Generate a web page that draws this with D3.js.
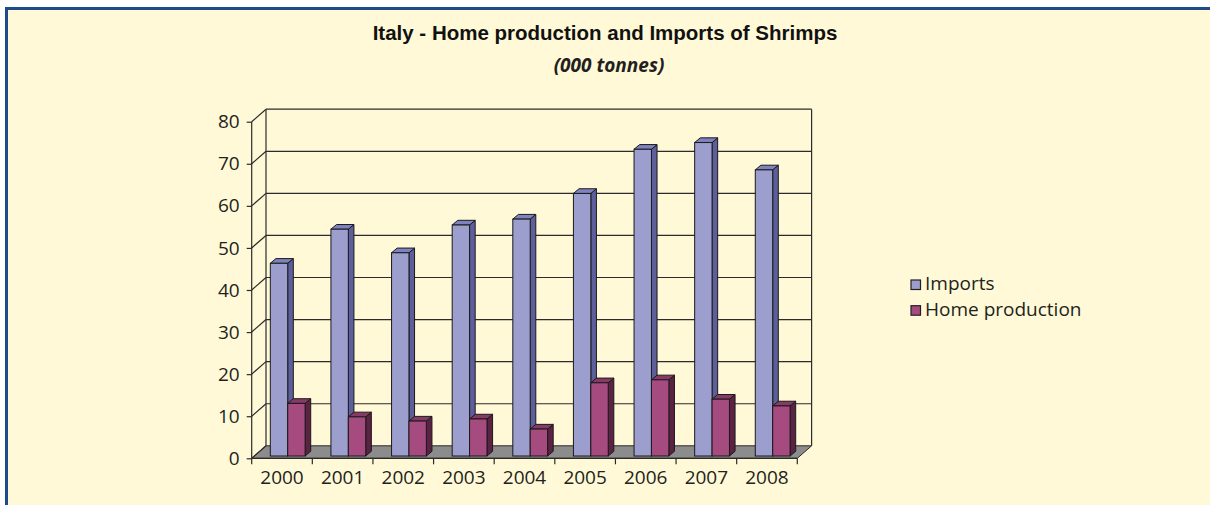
<!DOCTYPE html>
<html>
<head>
<meta charset="utf-8">
<script src="https://cdn.jsdelivr.net/npm/d3@7"></script>
<style>
  html, body { margin: 0; padding: 0; background: #ffffff; }
  svg { display: block; }
</style>
</head>
<body>
<svg id="chart" width="1210" height="505"></svg>
<script>
// ---- data ----
const years = ["2000", "2001", "2002", "2003", "2004", "2005", "2006", "2007", "2008"];
const imports = [45.8, 53.9, 48.3, 54.9, 56.3, 62.4, 72.9, 74.5, 68.0];
const homeProduction = [12.5, 9.3, 8.3, 8.8, 6.4, 17.4, 18.1, 13.5, 11.9];
const seriesNames = ["Imports", "Home production"];
const yTicks = [0, 10, 20, 30, 40, 50, 60, 70, 80];

// ---- layout ----
const svg = d3.select("#chart");
const W = 1210, H = 505;
const plotL = 251.7, plotR = 797.3, plotT = 121.7, plotB = 458.3;
const depthX = 14.3, depthY = -12.5;      // wall depth projection
const barDX = 5.6, barDY = -4.7;          // bar depth projection
const barOffX = 5.7, barOffY = -2.3;      // bar front face offset from front plane
const barW = 17.4;

const colors = {
  Imports: { front: "#9c9ece", side: "#5c5f9c", top: "#7f82c0" },
  "Home production": { front: "#a64b80", side: "#5b2244", top: "#883a67" }
};

// panel
svg.append("rect").attr("x", 0).attr("y", 0).attr("width", W).attr("height", H).attr("fill", "#ffffff");
svg.append("rect")
  .attr("x", 6.5).attr("y", 8.5).attr("width", W + 20).attr("height", H + 20)
  .attr("fill", "#fff9d7").attr("stroke", "#1f4b8a").attr("stroke-width", 3);

// scales
const y = d3.scaleLinear().domain([0, 80]).range([plotB, plotT]);
const x0 = d3.scaleBand().domain(years).range([plotL, plotR]).paddingInner(0).paddingOuter(0);
const groupW = barW * 2;
const x1 = d3.scaleBand().domain(seriesNames).range([0, groupW]);

const g = svg.append("g");
const gridColor = "#2b2b2b";

// floor
const floorPts = [[plotL, plotB], [plotR, plotB], [plotR + depthX, plotB + depthY], [plotL + depthX, plotB + depthY]];
g.append("polygon").attr("points", floorPts.map(p => p.join(",")).join(" "))
  .attr("fill", "#8c8c8c").attr("stroke", gridColor).attr("stroke-width", 1);

// back wall gridlines
g.selectAll("line.bgrid").data(yTicks.filter(d => d > 0)).enter().append("line")
  .attr("class", "bgrid")
  .attr("x1", plotL + depthX).attr("x2", plotR + depthX)
  .attr("y1", d => y(d) + depthY).attr("y2", d => y(d) + depthY)
  .attr("stroke", gridColor).attr("stroke-width", 1.2);
// side wall diagonal gridlines
g.selectAll("line.sgrid").data(yTicks).enter().append("line")
  .attr("class", "sgrid")
  .attr("x1", plotL).attr("x2", plotL + depthX)
  .attr("y1", d => y(d)).attr("y2", d => y(d) + depthY)
  .attr("stroke", gridColor).attr("stroke-width", 1.2);
// wall edges
g.append("line").attr("x1", plotL + depthX).attr("x2", plotL + depthX)
  .attr("y1", y(80) + depthY).attr("y2", y(0) + depthY).attr("stroke", gridColor).attr("stroke-width", 1.2);
g.append("line").attr("x1", plotR + depthX).attr("x2", plotR + depthX)
  .attr("y1", y(80) + depthY).attr("y2", y(0) + depthY).attr("stroke", gridColor).attr("stroke-width", 1.2);

// bars
const barData = [];
years.forEach((yr, i) => {
  barData.push({ year: yr, series: "Imports", value: imports[i] });
  barData.push({ year: yr, series: "Home production", value: homeProduction[i] });
});
const bandPad = (x0.bandwidth() - groupW) / 2;
barData.forEach(d => {
  const xl = x0(d.year) + bandPad + x1(d.series) + barOffX;
  const xr = xl + barW;
  const yb = y(0) + barOffY;
  const yt = y(d.value) + barOffY;
  const c = colors[d.series];
  const bg = g.append("g");
  // side
  bg.append("polygon")
    .attr("points", [[xr, yb], [xr + barDX, yb + barDY], [xr + barDX, yt + barDY], [xr, yt]].map(p => p.join(",")).join(" "))
    .attr("fill", c.side).attr("stroke", "#1a1a1a").attr("stroke-width", 1).attr("stroke-linejoin", "round");
  // top
  bg.append("polygon")
    .attr("points", [[xl, yt], [xr, yt], [xr + barDX, yt + barDY], [xl + barDX, yt + barDY]].map(p => p.join(",")).join(" "))
    .attr("fill", c.top).attr("stroke", "#1a1a1a").attr("stroke-width", 1).attr("stroke-linejoin", "round");
  // front
  bg.append("rect")
    .attr("x", xl).attr("y", yt).attr("width", barW).attr("height", yb - yt)
    .attr("fill", c.front).attr("stroke", "#1a1a1a").attr("stroke-width", 1);
});

// y axis
const yAxis = d3.axisLeft(y).tickValues(yTicks).tickSize(5).tickPadding(7).tickFormat(d3.format("d"));
const ya = svg.append("g").attr("transform", `translate(${plotL},0)`).call(yAxis);
ya.select(".domain").attr("stroke", gridColor).attr("stroke-width", 1.2).attr("d", `M0,${plotT}V${plotB}`);
ya.selectAll(".tick line").attr("stroke", gridColor).attr("stroke-width", 1.2);
ya.selectAll("text").attr("fill", "#231f20")
  .style("font-family", "'Open Sans', sans-serif").style("font-size", "19px");

// x axis
const xa = svg.append("g").attr("transform", `translate(0,${plotB})`);
xa.append("line").attr("x1", plotL).attr("x2", plotR).attr("y1", 0).attr("y2", 0)
  .attr("stroke", gridColor).attr("stroke-width", 1.2);
const xTickPos = years.map(yr => x0(yr)).concat([plotR]);
xa.selectAll("line.xt").data(xTickPos).enter().append("line")
  .attr("class", "xt").attr("x1", d => d).attr("x2", d => d).attr("y1", 0).attr("y2", 6)
  .attr("stroke", gridColor).attr("stroke-width", 1.2);
xa.selectAll("text").data(years).enter().append("text")
  .attr("x", d => x0(d) + x0.bandwidth() / 2).attr("y", 26)
  .attr("text-anchor", "middle").attr("fill", "#231f20")
  .style("font-family", "'Open Sans', sans-serif").style("font-size", "19px")
  .text(d => d);

// titles
svg.append("text").attr("x", 605).attr("y", 39.5).attr("text-anchor", "middle")
  .attr("fill", "#111").style("font-family", "'Liberation Sans', Arial, sans-serif")
  .style("font-weight", "bold").style("font-size", "20.5px")
  .text("Italy - Home production and Imports of Shrimps");
svg.append("text").attr("x", 609).attr("y", 71.5).attr("text-anchor", "middle")
  .attr("fill", "#231f20").style("font-family", "'Open Sans', sans-serif")
  .style("font-weight", "bold").style("font-style", "italic").style("font-size", "19px")
  .text("(000 tonnes)");

// legend
const legend = svg.append("g");
seriesNames.forEach((s, i) => {
  const ly = 280 + i * 25.7;
  legend.append("rect").attr("x", 911).attr("y", ly).attr("width", 9.5).attr("height", 9.5)
    .attr("fill", colors[s].front).attr("stroke", "#231f20").attr("stroke-width", 1.2);
  legend.append("text").attr("x", 925).attr("y", ly + 9.8)
    .attr("fill", "#231f20").style("font-family", "'Open Sans', sans-serif").style("font-size", "19px")
    .text(s);
});
</script>
</body>
</html>
